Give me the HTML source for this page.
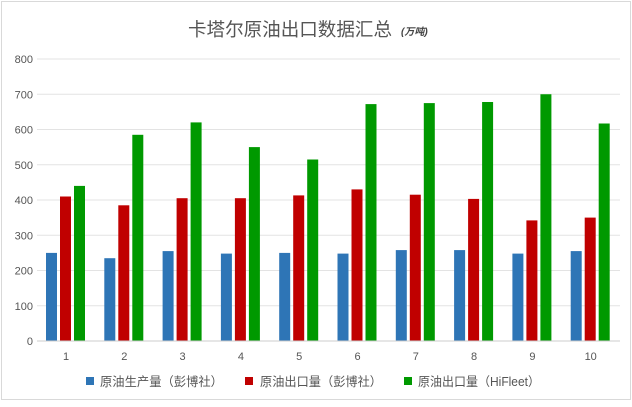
<!DOCTYPE html>
<html><head><meta charset="utf-8"><style>
body{margin:0;background:#fff;}
svg text{font-family:"Liberation Sans","Noto Sans CJK SC",sans-serif;}
</style></head><body>
<svg width="632" height="402" xmlns="http://www.w3.org/2000/svg">
<rect x="1.5" y="1.5" width="629" height="398" fill="#fff" stroke="#d9d9d9"/>
<text x="188" y="36" font-size="18.5" fill="#555" textLength="204" lengthAdjust="spacingAndGlyphs">卡塔尔原油出口数据汇总</text>
<text x="401" y="35" font-size="10" fill="#444" font-style="italic" font-weight="bold">(万吨)</text>
<g stroke="#e3e3e3">
<line x1="37" x2="620" y1="305.75" y2="305.75"/><line x1="37" x2="620" y1="270.5" y2="270.5"/>
<line x1="37" x2="620" y1="235.25" y2="235.25"/><line x1="37" x2="620" y1="200" y2="200"/>
<line x1="37" x2="620" y1="164.75" y2="164.75"/><line x1="37" x2="620" y1="129.5" y2="129.5"/>
<line x1="37" x2="620" y1="94.25" y2="94.25"/><line x1="37" x2="620" y1="59" y2="59"/>
</g>
<g font-size="11" fill="#555" text-anchor="end">
<text x="33" y="345">0</text><text x="33" y="309.75">100</text><text x="33" y="274.5">200</text>
<text x="33" y="239.25">300</text><text x="33" y="204">400</text><text x="33" y="168.75">500</text>
<text x="33" y="133.5">600</text><text x="33" y="98.25">700</text><text x="33" y="63">800</text>
</g>
<g fill="#2e75b6">
<rect x="46" y="252.9" width="11" height="88.1"/>
<rect x="104.3" y="258.2" width="11" height="82.8"/>
<rect x="162.6" y="251.1" width="11" height="89.9"/>
<rect x="220.9" y="253.6" width="11" height="87.4"/>
<rect x="279.2" y="252.9" width="11" height="88.1"/>
<rect x="337.5" y="253.6" width="11" height="87.4"/>
<rect x="395.8" y="250.1" width="11" height="90.9"/>
<rect x="454.1" y="250.1" width="11" height="90.9"/>
<rect x="512.4" y="253.6" width="11" height="87.4"/>
<rect x="570.7" y="251.1" width="11" height="89.9"/>
</g>
<g fill="#c00000">
<rect x="60" y="196.5" width="11" height="144.5"/>
<rect x="118.3" y="205.3" width="11" height="135.7"/>
<rect x="176.6" y="198.2" width="11" height="142.8"/>
<rect x="234.9" y="198.2" width="11" height="142.8"/>
<rect x="293.2" y="195.4" width="11" height="145.6"/>
<rect x="351.5" y="189.4" width="11" height="151.6"/>
<rect x="409.8" y="194.7" width="11" height="146.3"/>
<rect x="468.1" y="198.9" width="11" height="142.1"/>
<rect x="526.4" y="220.4" width="11" height="120.6"/>
<rect x="584.7" y="217.6" width="11" height="123.4"/>
</g>
<g fill="#009900">
<rect x="74" y="185.9" width="11" height="155.1"/>
<rect x="132.3" y="134.8" width="11" height="206.2"/>
<rect x="190.6" y="122.4" width="11" height="218.6"/>
<rect x="248.9" y="147.1" width="11" height="193.9"/>
<rect x="307.2" y="159.5" width="11" height="181.5"/>
<rect x="365.5" y="104.1" width="11" height="236.9"/>
<rect x="423.8" y="103.1" width="11" height="237.9"/>
<rect x="482.1" y="102" width="11" height="239"/>
<rect x="540.4" y="94.25" width="11" height="246.75"/>
<rect x="598.7" y="123.5" width="11" height="217.5"/>
</g>
<line x1="37" x2="620" y1="341" y2="341" stroke="#ccc"/>
<g font-size="11" fill="#555" text-anchor="middle">
<text x="66" y="360">1</text><text x="124.3" y="360">2</text><text x="182.6" y="360">3</text>
<text x="240.9" y="360">4</text><text x="299.2" y="360">5</text><text x="357.5" y="360">6</text>
<text x="415.8" y="360">7</text><text x="474.1" y="360">8</text><text x="532.4" y="360">9</text>
<text x="590.7" y="360">10</text>
</g>
<g font-size="12.5" fill="#555">
<rect x="86" y="377" width="8" height="8" fill="#2e75b6"/><text x="100" y="386" textLength="123" lengthAdjust="spacingAndGlyphs">原油生产量（彭博社）</text>
<rect x="245" y="377" width="8" height="8" fill="#c00000"/><text x="260" y="386" textLength="122" lengthAdjust="spacingAndGlyphs">原油出口量（彭博社）</text>
<rect x="404" y="377" width="8" height="8" fill="#009900"/><text x="418" y="386" textLength="122" lengthAdjust="spacingAndGlyphs">原油出口量（HiFleet）</text>
</g>
</svg>
</body></html>
